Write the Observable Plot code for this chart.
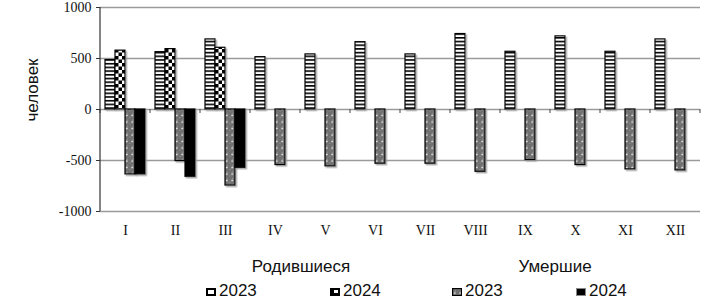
<!DOCTYPE html>
<html>
<head>
<meta charset="utf-8">
<script src="https://cdn.jsdelivr.net/npm/d3@7"></script>
<script src="https://cdn.jsdelivr.net/npm/@observablehq/plot@0.6"></script>
<style>
  html, body { margin: 0; padding: 0; background: #fff; }
  #wrap { position: relative; width: 726px; height: 302px; font-family: "Liberation Sans", Arial, sans-serif; }
  #chart svg { display: block; }
  .demo-chart g[aria-label="y-axis tick label"],
  .demo-chart g[aria-label="fx-axis tick label"] { font-family: "Liberation Serif", "Times New Roman", serif; font-size: 14px; }
  .ttl { position: absolute; font-size: 17px; line-height: 20px; color: #111; transform: translateX(-50%); white-space: nowrap; }
  .ylab { position: absolute; left: 33px; top: 90px; font-size: 17px; line-height: 20px; color: #111; white-space: nowrap; transform: translate(-50%, -50%) rotate(-90deg); }
  .item { position: absolute; top: 281px; font-size: 17px; line-height: 20px; color: #111; white-space: nowrap; display: flex; align-items: center; }
  .item svg { margin-right: 3px; margin-top: 1px; }
</style>
</head>
<body>
<div id="wrap">
  <div id="chart"></div>
  <div class="ylab">человек</div>
  <div class="ttl" style="left:301px; top:257px;">Родившиеся</div>
  <div class="ttl" style="left:555px; top:257px;">Умершие</div>
  <div class="item" style="left:206px;"><svg width="10" height="8"><rect x="1" y="1" width="8" height="6" fill="#fff" stroke="#000" stroke-width="2"/></svg>2023</div>
  <div class="item" style="left:330px;"><svg width="10" height="8"><rect x="0" y="0" width="10" height="8" fill="#000"/><rect x="4" y="2" width="4" height="3" fill="#fff"/></svg>2024</div>
  <div class="item" style="left:452px;"><svg width="10" height="8"><rect x="0.5" y="0.5" width="9" height="7" fill="url(#pd23)" stroke="#000" stroke-width="1.2"/></svg>2023</div>
  <div class="item" style="left:576px;"><svg width="10" height="8"><rect x="0.5" y="0.5" width="9" height="7" fill="#000" stroke="#888" stroke-width="1"/></svg>2024</div>
</div>
<script>
// ---- data ----
const months = ["I","II","III","IV","V","VI","VII","VIII","IX","X","XI","XII"];
const births2023 = [485, 562, 687, 513, 540, 660, 540, 740, 566, 717, 566, 687];
const births2024 = [577, 592, 605, null, null, null, null, null, null, null, null, null];
const deaths2023 = [-637, -506, -746, -545, -558, -532, -532, -611, -496, -545, -588, -598];
const deaths2024 = [-637, -660, -572, null, null, null, null, null, null, null, null, null];
const seriesKeys = ["b23", "b24", "d23", "d24"];
const seriesFills = ["url(#pb23)", "url(#pb24)", "url(#pd23)", "#000"];
const yTicks = [-1000, -500, 0, 500, 1000];
const gridValues = [-1000, -500, 500, 1000];

const table = [];
const sources = [births2023, births2024, deaths2023, deaths2024];
months.forEach((m, i) => {
  sources.forEach((arr, k) => {
    if (arr[i] != null) table.push({month: m, series: seriesKeys[k], value: arr[i]});
  });
});

const NS = "http://www.w3.org/2000/svg";
const SERIF = "'Liberation Serif', 'Times New Roman', serif";

const edgeMarks = Plot.ruleY(months, {
  fx: d => d,
  y: () => 0,
  render: (index, scales, values, dims) => {
    const g = document.createElementNS(NS, "g");
    const [xl, xr] = scales.x.range();
    const y0 = scales.y(0);
    const mk = (x1, y1, x2, y2, stroke, sw) => {
      const l = document.createElementNS(NS, "line");
      l.setAttribute("x1", x1); l.setAttribute("y1", y1);
      l.setAttribute("x2", x2); l.setAttribute("y2", y2);
      l.setAttribute("stroke", stroke); l.setAttribute("stroke-width", sw);
      g.appendChild(l);
    };
    const m = months[index[0]];
    mk(xl, y0, xl, y0 + 4, "#444", 1);
    if (m === months[months.length - 1]) mk(xr, y0, xr, y0 + 4, "#444", 1);
    if (m === months[0]) mk(xl, scales.y(1000), xl, scales.y(-1000), "#333", 1.2);
    return g;
  }
});

const chart = Plot.plot({
  className: "demo-chart",
  width: 726,
  height: 245,
  marginLeft: 97,
  marginRight: 23,
  marginTop: 7,
  marginBottom: 34,
  style: {background: "#fff", overflow: "visible", fontFamily: SERIF},
  fx: {domain: months, padding: 0, label: null},
  x: {domain: seriesKeys, paddingInner: 0, paddingOuter: 0.35, axis: null},
  y: {domain: [-1000, 1000]},
  color: {domain: seriesKeys, range: seriesFills},
  marks: [
    Plot.ruleY(gridValues, {stroke: "#9a9a9a", strokeWidth: 1.3}),
    Plot.ruleY([0], {stroke: "#9a9a9a", strokeWidth: 1.3}),
    Plot.barY(table, {fx: "month", x: "series", y: "value", fill: "series", stroke: "#000", strokeWidth: 1.2}),
    edgeMarks,
    Plot.axisY({ticks: yTicks, tickSize: 4, tickPadding: 5, tickFormat: d => String(d), label: null,
      fontFamily: SERIF, fontSize: 14, stroke: "#333", fill: "#111"}),
    Plot.axisFx({anchor: "bottom", tickSize: 0, tickPadding: 14, label: null,
      fontFamily: SERIF, fontSize: 14, fill: "#111"})
  ]
});

const defs = document.createElementNS(NS, "defs");
defs.innerHTML = `
  <pattern id="pb23" patternUnits="userSpaceOnUse" width="4" height="3.7">
    <rect width="4" height="3.7" fill="#fff"/><rect width="4" height="1.6" fill="#000"/>
  </pattern>
  <pattern id="pb24" patternUnits="userSpaceOnUse" width="7" height="7">
    <rect width="7" height="7" fill="#fff"/>
    <rect width="3.5" height="3.5" fill="#000"/><rect x="3.5" y="3.5" width="3.5" height="3.5" fill="#000"/>
  </pattern>
  <pattern id="pd23" patternUnits="userSpaceOnUse" width="5.5" height="6.5">
    <rect width="5.5" height="6.5" fill="#6f6f6f"/>
    <rect x="0" y="0" width="1" height="1" fill="#9a9a9a"/>
    <rect x="2.75" y="2.5" width="1" height="1" fill="#a0a0a0"/>
    <circle cx="2.75" cy="5" r="0.9" fill="#f0f0f0"/>
  </pattern>
  <filter id="shadow" x="-20%" y="-20%" width="150%" height="150%">
    <feDropShadow dx="1.5" dy="1.5" stdDeviation="0.6" flood-color="#999" flood-opacity="0.8"/>
  </filter>`;
chart.insertBefore(defs, chart.firstChild);
chart.querySelectorAll('g[aria-label="bar"] rect').forEach(r => r.setAttribute("filter", "url(#shadow)"));

document.getElementById("chart").appendChild(chart);
</script>
</body>
</html>
